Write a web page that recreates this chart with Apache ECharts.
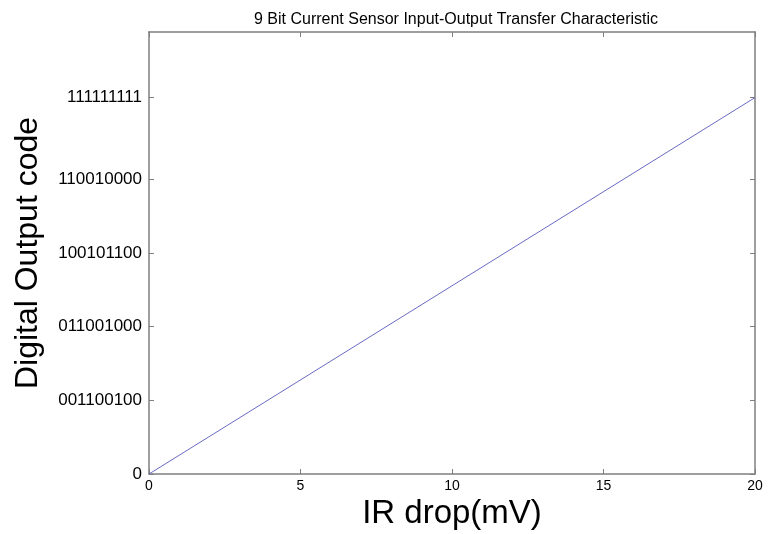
<!DOCTYPE html>
<html>
<head>
<meta charset="utf-8">
<script src="https://cdn.jsdelivr.net/npm/echarts@6/dist/echarts.min.js"></script>
<style>html,body{margin:0;padding:0;background:#fff;}#c{width:768px;height:534px;}</style>
</head>
<body>
<div id="c"></div>
<script>
const titleText = '9 Bit Current Sensor Input-Output Transfer Characteristic';
const xName = 'IR drop(mV)';
const yName = 'Digital Output code';
const xValues = [0, 20];
const yValues = [0, 511];
const xTicks = [0, 5, 10, 15, 20];
const yTicks = [0, 100, 200, 300, 400, 511];
const yTickLabels = ['0', '001100100', '011001000', '100101100', '110010000', '111111111'];

const chart = echarts.init(document.getElementById('c'));
const axisColor = '#7f7f7f';
const font = 'Liberation Sans, Arial, sans-serif';
const lblMap = {};
yTicks.forEach((v, i) => lblMap[v] = yTickLabels[i]);

chart.setOption({
  animation: false,
  title: {
    text: titleText, left: 451, top: 7, textAlign: 'center',
    textStyle: { fontSize: 16, fontWeight: 'normal', color: '#000', fontFamily: font }
  },
  grid: { left: 149, right: 13, top: 32, bottom: 60, outerBoundsMode: 'none', containLabel: false },
  xAxis: [{
    type: 'value', min: 0, max: 20, interval: 5,
    axisLine: { show: true, onZero: false, lineStyle: { color: axisColor, width: 1.5 } },
    axisTick: { show: true, inside: true, length: 5, customValues: xTicks, lineStyle: { color: axisColor } },
    axisLabel: { color: '#000', fontSize: 14, margin: 5, fontFamily: font, customValues: xTicks },
    splitLine: { show: false },
    name: xName, nameLocation: 'middle', nameGap: 21,
    nameTextStyle: { fontSize: 33, color: '#000', fontFamily: font, verticalAlign: 'top' }
  }, {
    type: 'value', min: 0, max: 20, interval: 5, position: 'top',
    axisLine: { show: true, onZero: false, lineStyle: { color: axisColor, width: 1.5 } },
    axisTick: { show: true, inside: true, length: 5, customValues: xTicks, lineStyle: { color: axisColor } },
    axisLabel: { show: false }, splitLine: { show: false }
  }],
  yAxis: [{
    type: 'value', min: 0, max: 600,
    axisLine: { show: true, onZero: false, lineStyle: { color: axisColor, width: 1.5 } },
    axisTick: { show: true, inside: true, length: 5, customValues: yTicks, lineStyle: { color: axisColor } },
    axisLabel: { color: '#000', fontSize: 17, margin: 7, fontFamily: font, customValues: yTicks,
      formatter: v => lblMap[v] !== undefined ? lblMap[v] : '' },
    splitLine: { show: false },
    name: yName, nameLocation: 'middle', nameGap: 105, nameRotate: 90,
    nameTextStyle: { fontSize: 32, color: '#000', fontFamily: font }
  }, {
    type: 'value', min: 0, max: 600, position: 'right',
    axisLine: { show: true, onZero: false, lineStyle: { color: axisColor, width: 1.5 } },
    axisTick: { show: true, inside: true, length: 5, customValues: yTicks, lineStyle: { color: axisColor } },
    axisLabel: { show: false }, splitLine: { show: false }
  }],
  series: [{
    type: 'line', xAxisIndex: 0, yAxisIndex: 0,
    data: xValues.map((x, i) => [x, yValues[i]]),
    showSymbol: false, symbol: 'none',
    lineStyle: { color: '#6a6ac4', width: 1 }
  }]
});
</script>
</body>
</html>
